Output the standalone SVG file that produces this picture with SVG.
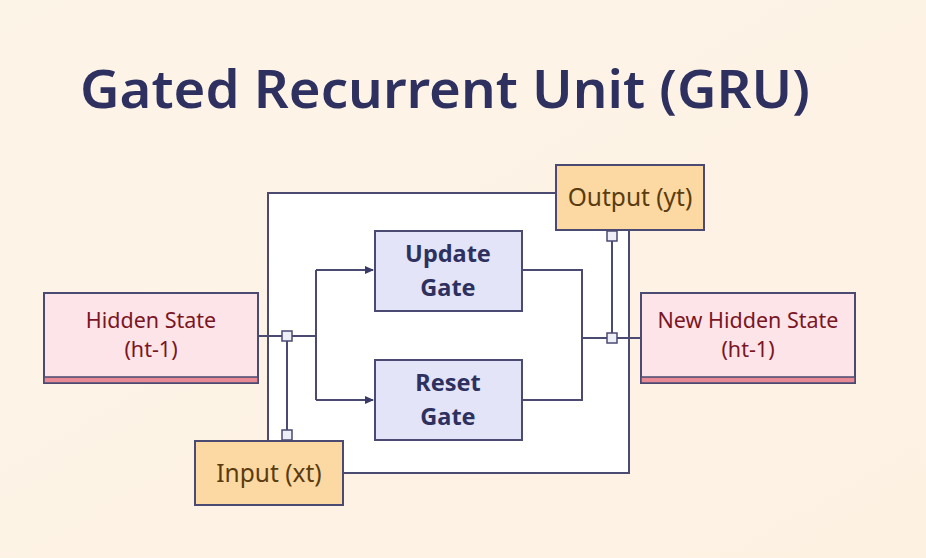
<svg xmlns="http://www.w3.org/2000/svg" width="926" height="558" viewBox="0 0 926 558">
<style>
.ln{fill:none;stroke:#4a4a72;stroke-width:2}
.box{stroke:#4a4a72;stroke-width:2}
.pink{fill:#fde4e8}
.bar{fill:#e88a96;stroke:#4a4a72;stroke-width:1.5}
.orange{fill:#fcd9a2}
.gate{fill:#e3e4f8}
.sq{fill:#eeeef6;stroke:#4a4a72;stroke-width:1.5}
.t{font-family:"Noto Sans","Open Sans","Liberation Sans",sans-serif;text-anchor:middle}
.tr{fill:#7a1624;font-size:21.5px}
.to{fill:#5a3c10;font-size:24.5px}
.tg{fill:#2e3160;font-size:23.5px;font-weight:700}
</style>
<defs>
<marker id="ah" markerWidth="10" markerHeight="10" refX="8" refY="5" orient="auto" markerUnits="userSpaceOnUse">
<path d="M0,1 L9,5 L0,9 Z" fill="#3a3a66"/>
</marker>
<linearGradient id="bg" x1="0" y1="0" x2="1" y2="1">
<stop offset="0" stop-color="#fdf4e8"/>
<stop offset="1" stop-color="#fdf1e2"/>
</linearGradient>
</defs>
<rect width="926" height="558" fill="url(#bg)"/>
<text x="80" y="108" font-family="Noto Sans,Open Sans,Liberation Sans,sans-serif" font-size="52" font-weight="600" fill="#2e3160" textLength="730" lengthAdjust="spacingAndGlyphs">Gated Recurrent Unit (GRU)</text>

<g id="connectors">
<rect x="268" y="193" width="361" height="280" fill="#ffffff" stroke="#4a4a72" stroke-width="2"/>
<path class="ln" d="M258,336 H316"/>
<path class="ln" d="M287,336 V435"/>
<path class="ln" d="M316,270 V400"/>
<path class="ln" d="M316,270 H373" marker-end="url(#ah)"/>
<path class="ln" d="M316,400 H373" marker-end="url(#ah)"/>
<path class="ln" d="M522,270 H582 V400 H522"/>
<path class="ln" d="M582,338 H641"/>
<path class="ln" d="M612,236 V338"/>
<rect class="sq" x="282" y="331" width="10" height="10"/>
<rect class="sq" x="282" y="430" width="10" height="10"/>
<rect class="sq" x="607" y="333" width="10" height="10"/>
<rect class="sq" x="607" y="231" width="10" height="10"/>
</g>

<g id="hidden-state">
<rect class="box pink" x="44" y="293" width="214" height="90"/>
<rect class="bar" x="44" y="377" width="214" height="6"/>
<text class="t tr" x="151" y="328">Hidden State</text>
<text class="t tr" x="151" y="357">(ht-1)</text>
</g>

<g id="input">
<rect class="box orange" x="195" y="441" width="148" height="64"/>
<text class="t to" x="269" y="482">Input (xt)</text>
</g>

<g id="update-gate">
<rect class="box gate" x="375" y="231" width="147" height="80"/>
<text class="t tg" x="448" y="262">Update</text>
<text class="t tg" x="448" y="296">Gate</text>
</g>

<g id="reset-gate">
<rect class="box gate" x="375" y="360" width="147" height="80"/>
<text class="t tg" x="448" y="391">Reset</text>
<text class="t tg" x="448" y="425">Gate</text>
</g>

<g id="output">
<rect class="box orange" x="556" y="165" width="148" height="65"/>
<text class="t to" x="630" y="206">Output (yt)</text>
</g>

<g id="new-hidden-state">
<rect class="box pink" x="641" y="293" width="214" height="90"/>
<rect class="bar" x="641" y="377" width="214" height="6"/>
<text class="t tr" x="748" y="328">New Hidden State</text>
<text class="t tr" x="748" y="357">(ht-1)</text>
</g>
</svg>
